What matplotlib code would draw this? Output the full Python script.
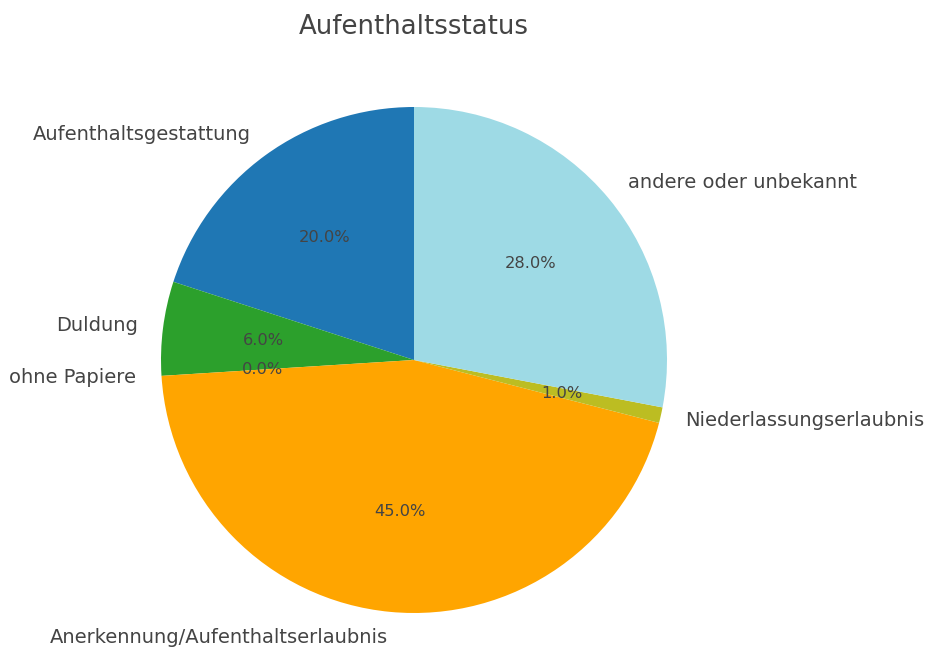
import matplotlib.pyplot as plt

plt.rcParams['font.family'] = ['DejaVu Sans']

labels = ['Aufenthaltsgestattung', 'Duldung', 'ohne Papiere',
          'Anerkennung/Aufenthaltserlaubnis', 'Niederlassungserlaubnis',
          'andere oder unbekannt']
values = [20, 6, 0, 45, 1, 28]
colors = ['#1f77b4', '#2ca02c', '#d62728', '#ffa500', '#bcbd22', '#9edae5']

W, H = 928, 648
fig = plt.figure(figsize=(W / 100, H / 100), dpi=100)

# pie center and radius in pixels
cx, cy, r = 414, 360, 253
lim = 1.2
size = 2 * lim * r
ax = fig.add_axes([(cx - size / 2) / W, (H - cy - size / 2) / H, size / W, size / H])

wedges, texts, autotexts = ax.pie(values, labels=labels, colors=colors,
                                  autopct='%1.1f%%', startangle=90,
                                  textprops={'color': '#444444', 'fontsize': 14})
for t in autotexts:
    t.set_fontsize(11.7)
ax.set_xlim(-lim, lim)
ax.set_ylim(-lim, lim)
ax.axis('off')

fig.text(cx / W, 1 - 27 / H, 'Aufenthaltsstatus', ha='center', va='center',
         fontsize=18.7, color='#444444')

plt.savefig('out.png', dpi=100)
